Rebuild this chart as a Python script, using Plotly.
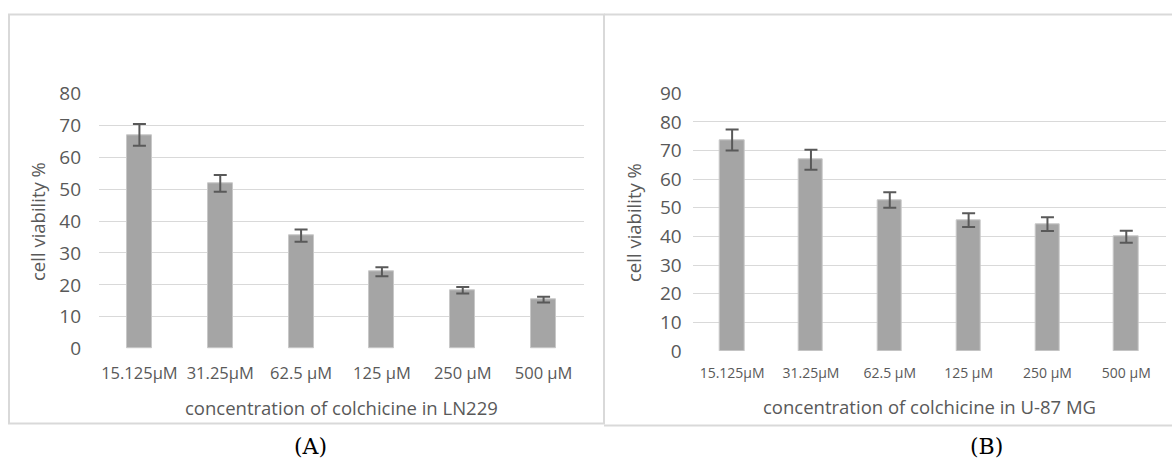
import plotly.graph_objects as go

W, H = 1172, 466

categories = ["15.125µM", "31.25µM", "62.5 µM", "125 µM", "250 µM", "500 µM"]
ln229_values = [67.0, 51.8, 35.4, 24.1, 18.3, 15.4]
ln229_errors = [3.4, 2.6, 1.9, 1.4, 1.0, 0.9]
u87_values = [73.7, 66.8, 52.7, 45.7, 44.3, 39.9]
u87_errors = [3.7, 3.5, 2.7, 2.4, 2.4, 2.1]

left_title = "concentration of colchicine in LN229"
right_title = "concentration of colchicine in U-87 MG"
y_title = "cell viability %"

TXT = "#595959"
GRID = "#D9D9D9"
BAR = "#A5A5A5"
FONT = "Open Sans"


def px(x):
    return x / W


def py(y):
    return 1 - y / H


fig = go.Figure()
for vals, errs, xa, ya in [(ln229_values, ln229_errors, "x", "y"),
                           (u87_values, u87_errors, "x2", "y2")]:
    fig.add_trace(go.Bar(
        x=categories, y=vals, xaxis=xa, yaxis=ya, width=0.31,
        marker=dict(color=BAR, line=dict(color="#C8C8C8", width=1)),
        error_y=dict(type="data", array=errs, visible=True,
                     color=TXT, thickness=2, width=6.5),
        showlegend=False,
    ))

common_x = dict(type="category", range=[-0.5, 5.5], showgrid=False,
                zeroline=False, showline=False, ticks="", fixedrange=True,
                automargin=False)
common_y = dict(dtick=10, showgrid=True, gridcolor=GRID, gridwidth=1.3,
                zeroline=False, showline=False, ticks="", automargin=False,
                tickfont=dict(family=FONT, size=19, color=TXT))

fig.update_layout(
    template="none",
    width=W, height=H,
    margin=dict(l=0, r=0, t=0, b=0, pad=0, autoexpand=False),
    paper_bgcolor="white", plot_bgcolor="white",
    bargap=0,
    xaxis=dict(domain=[px(99), px(584)], anchor="y",
               tickfont=dict(family=FONT, size=16.5, color=TXT),
               ticklabelstandoff=13, **common_x),
    yaxis=dict(domain=[py(348.7), py(93.3)], anchor="x", range=[0, 80],
               ticklabelstandoff=17, **common_y),
    xaxis2=dict(domain=[px(692.7), px(1165.7)], anchor="y2",
                tickfont=dict(family=FONT, size=14, color=TXT),
                ticklabelstandoff=12, **common_x),
    yaxis2=dict(domain=[py(351), py(93.3)], anchor="x2", range=[0, 90],
                ticklabelstandoff=10, **common_y),
)

ann = [
    dict(text=y_title, x=px(38), y=py(221), textangle=-90, size=18.5),
    dict(text=y_title, x=px(633), y=py(223), textangle=-90, size=18.5),
    dict(text=left_title, x=px(341.5), y=py(407), textangle=0, size=18.5),
    dict(text=right_title, x=px(929.2), y=py(406), textangle=0, size=18.5),
]
for a in ann:
    fig.add_annotation(text=a["text"], x=a["x"], y=a["y"], xref="paper", yref="paper",
                       xanchor="center", yanchor="middle", showarrow=False,
                       textangle=a["textangle"],
                       font=dict(family=FONT, size=a["size"], color=TXT))
for lab, cx in [("(A)", 310), ("(B)", 986)]:
    fig.add_annotation(text=lab, x=px(cx), y=py(446), xref="paper", yref="paper",
                       xanchor="center", yanchor="middle", showarrow=False,
                       font=dict(family="DejaVu Serif", size=22, color="#000000"))

frame = dict(color=GRID, width=2)
fig.add_shape(type="rect", xref="paper", yref="paper",
              x0=px(9), x1=px(604), y0=py(423.5), y1=py(14.5), line=frame)
fig.add_shape(type="line", xref="paper", yref="paper",
              x0=px(604), x1=1.0, y0=py(14.5), y1=py(14.5), line=frame)
fig.add_shape(type="line", xref="paper", yref="paper",
              x0=px(604), x1=1.0, y0=py(425.5), y1=py(425.5), line=frame)

fig.write_html("out.html")
